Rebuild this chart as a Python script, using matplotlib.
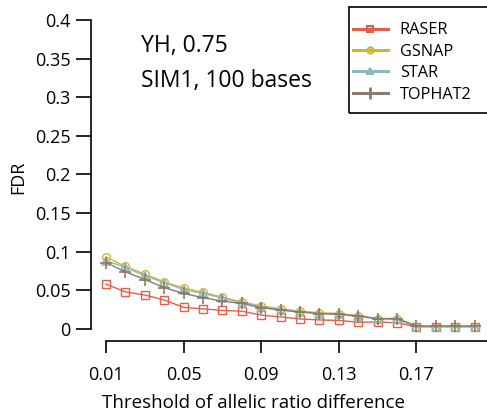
import matplotlib
matplotlib.use("Agg")
import matplotlib.pyplot as plt
from matplotlib.lines import Line2D
from matplotlib.patches import Rectangle

plt.rcParams['font.family'] = ['Open Sans', 'DejaVu Sans']

thresholds = [0.01, 0.02, 0.03, 0.04, 0.05, 0.06, 0.07, 0.08, 0.09, 0.10,
              0.11, 0.12, 0.13, 0.14, 0.15, 0.16, 0.17, 0.18, 0.19, 0.20]
raser = [0.058, 0.048, 0.044, 0.0375, 0.028, 0.026, 0.024, 0.023, 0.018, 0.0155,
         0.013, 0.0117, 0.011, 0.0087, 0.009, 0.008, 0.003, 0.003, 0.003, 0.003]
gsnap = [0.093, 0.081, 0.071, 0.061, 0.053, 0.0475, 0.041, 0.035, 0.030, 0.026,
         0.023, 0.021, 0.020, 0.017, 0.013, 0.013, 0.003, 0.003, 0.003, 0.003]
star = [0.088, 0.080, 0.069, 0.060, 0.051, 0.046, 0.040, 0.034, 0.029, 0.025,
        0.022, 0.020, 0.019, 0.016, 0.013, 0.013, 0.003, 0.003, 0.003, 0.003]
tophat2 = [0.086, 0.074, 0.064, 0.0535, 0.046, 0.0405, 0.036, 0.033, 0.0275, 0.0245,
           0.022, 0.020, 0.019, 0.017, 0.0135, 0.0135, 0.004, 0.004, 0.004, 0.004]
series_names = ["RASER", "GSNAP", "STAR", "TOPHAT2"]
xticks = [0.01, 0.05, 0.09, 0.13, 0.17]
xtick_labels = ["0.01", "0.05", "0.09", "0.13", "0.17"]
yticks = [0, 0.05, 0.1, 0.15, 0.2, 0.25, 0.3, 0.35, 0.4]
ytick_labels = ["0", "0.05", "0.1", "0.15", "0.2", "0.25", "0.3", "0.35", "0.4"]

W, H = 487, 420
fig = plt.figure(figsize=(W / 100, H / 100), dpi=100)

left_px, right_px = 91, 487
top_px, bottom_px = 12.3, 341.4
ax = fig.add_axes([left_px / W, 1 - bottom_px / H,
                   (right_px - left_px) / W, (bottom_px - top_px) / H])

colors = ["#E0604A", "#D4B52A", "#8FB8BA", "#8A7A70"]
markers = ["s", "o", "^", "+"]
msizes = [5.5, 5.5, 6.0, 8.5]
mews = [1.0, 1.0, 1.2, 1.2]

for name, vals, c, m, ms, mw in zip(series_names, [raser, gsnap, star, tophat2],
                                     colors, markers, msizes, mews):
    ax.plot(thresholds, vals, lw=1.0, color=c, marker=m, markersize=ms,
            mfc="none", mew=mw, label=name)

ax.set_xlim(0.00227, 0.2064)
ax.set_ylim(-0.0161, 0.41)

for s in ["top", "right"]:
    ax.spines[s].set_visible(False)
ax.spines["left"].set_bounds(0, 0.4)
ax.spines["bottom"].set_bounds(0.01, 0.2064)
ax.spines["left"].set_linewidth(1.2)
ax.spines["bottom"].set_linewidth(1.2)

ax.set_xticks(xticks)
ax.set_xticklabels(xtick_labels)
ax.set_yticks(yticks)
ax.set_yticklabels(ytick_labels)
ax.tick_params(axis="y", length=10.5, width=1.2, pad=4, labelsize=13)
ax.tick_params(axis="x", length=8.5, width=1.2, pad=9, labelsize=13)

ax.set_xlabel("Threshold of allelic ratio difference", fontsize=13.5)
ax.xaxis.set_label_coords((253 - left_px) / (right_px - left_px),
                          -(403 - bottom_px) / (bottom_px - top_px))
ax.xaxis.label.set_va("center")
ax.set_ylabel("FDR", fontsize=13, labelpad=6)

fig.text(141 / W, 1 - 51.7 / H, "YH, 0.75", fontsize=16.5, ha="left", va="baseline")
fig.text(141 / W, 1 - 86.7 / H, "SIM1, 100 bases", fontsize=16.5,
         ha="left", va="baseline")

# legend frame (extends past the right edge, as in the reference)
fig.patches.append(Rectangle((349 / W, 1 - 113 / H), (W + 10 - 349) / W, (113 - 7) / H,
                             transform=fig.transFigure, fill=False,
                             edgecolor="black", lw=1.2, zorder=5))

handles = [Line2D([], [], color=c, lw=2.2, marker=m, markersize=4.5 if m != "+" else 9,
                  mfc="none", mew=1.5 if m != "+" else 2.0)
           for c, m in zip(colors, markers)]
leg = fig.legend(handles, series_names, loc="center left",
                 bbox_to_anchor=(353 / W, 1 - 62.5 / H),
                 bbox_transform=fig.transFigure, fontsize=11.7, frameon=False,
                 handlelength=2.15, handletextpad=0.72, borderpad=0,
                 labelspacing=0.33, borderaxespad=0)

fig.savefig("out.png", dpi=100)
